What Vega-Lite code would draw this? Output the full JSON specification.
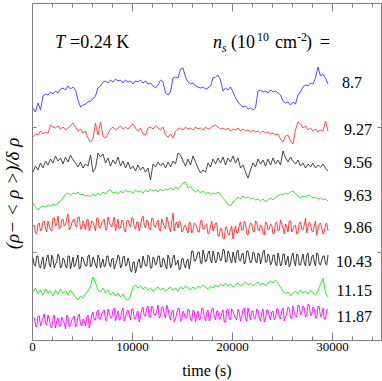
{
"$schema": "https://vega.github.io/schema/vega-lite/v6.json",
"width": 349, "height": 337,
"autosize": "none",
"padding": {"left": 32, "top": 3, "right": 1, "bottom": 41},
"background": "white",
"config": {"view": {"stroke": "#808080", "strokeWidth": 1}},
"datasets": {
"traces": [
{"s":"8.7","t":100,"v":232},{"s":"8.7","t":350,"v":228},{"s":"8.7","t":600,"v":237},{"s":"8.7","t":850,"v":230},{"s":"8.7","t":1100,"v":244},{"s":"8.7","t":1350,"v":246},{"s":"8.7","t":1600,"v":245},{"s":"8.7","t":1850,"v":248},{"s":"8.7","t":2100,"v":246},{"s":"8.7","t":2350,"v":249},{"s":"8.7","t":2600,"v":247},{"s":"8.7","t":2850,"v":251},{"s":"8.7","t":3100,"v":252},{"s":"8.7","t":3350,"v":250},{"s":"8.7","t":3600,"v":254},{"s":"8.7","t":3850,"v":251},{"s":"8.7","t":4100,"v":253},{"s":"8.7","t":4350,"v":250},{"s":"8.7","t":4600,"v":240},{"s":"8.7","t":4850,"v":233},{"s":"8.7","t":5100,"v":235},{"s":"8.7","t":5350,"v":236},{"s":"8.7","t":5600,"v":238},{"s":"8.7","t":5850,"v":239},{"s":"8.7","t":6100,"v":241},{"s":"8.7","t":6350,"v":244},{"s":"8.7","t":6600,"v":252},{"s":"8.7","t":6850,"v":254},{"s":"8.7","t":7100,"v":258},{"s":"8.7","t":7350,"v":259},{"s":"8.7","t":7600,"v":257},{"s":"8.7","t":7850,"v":260},{"s":"8.7","t":8100,"v":258},{"s":"8.7","t":8350,"v":261},{"s":"8.7","t":8600,"v":259},{"s":"8.7","t":8850,"v":260},{"s":"8.7","t":9100,"v":257},{"s":"8.7","t":9350,"v":260},{"s":"8.7","t":9600,"v":258},{"s":"8.7","t":9850,"v":259},{"s":"8.7","t":10100,"v":256},{"s":"8.7","t":10350,"v":259},{"s":"8.7","t":10600,"v":258},{"s":"8.7","t":10850,"v":260},{"s":"8.7","t":11100,"v":257},{"s":"8.7","t":11350,"v":259},{"s":"8.7","t":11600,"v":256},{"s":"8.7","t":11850,"v":257},{"s":"8.7","t":12100,"v":254},{"s":"8.7","t":12350,"v":252},{"s":"8.7","t":12600,"v":255},{"s":"8.7","t":12850,"v":260},{"s":"8.7","t":13100,"v":258},{"s":"8.7","t":13350,"v":247},{"s":"8.7","t":13600,"v":245},{"s":"8.7","t":13850,"v":248},{"s":"8.7","t":14100,"v":262},{"s":"8.7","t":14350,"v":263},{"s":"8.7","t":14600,"v":262},{"s":"8.7","t":14850,"v":271},{"s":"8.7","t":15100,"v":272},{"s":"8.7","t":15350,"v":263},{"s":"8.7","t":15600,"v":258},{"s":"8.7","t":15850,"v":256},{"s":"8.7","t":16100,"v":257},{"s":"8.7","t":16350,"v":254},{"s":"8.7","t":16600,"v":253},{"s":"8.7","t":16850,"v":252},{"s":"8.7","t":17100,"v":253},{"s":"8.7","t":17350,"v":251},{"s":"8.7","t":17600,"v":252},{"s":"8.7","t":17850,"v":254},{"s":"8.7","t":18100,"v":262},{"s":"8.7","t":18350,"v":263},{"s":"8.7","t":18600,"v":265},{"s":"8.7","t":18850,"v":260},{"s":"8.7","t":19100,"v":249},{"s":"8.7","t":19350,"v":252},{"s":"8.7","t":19600,"v":250},{"s":"8.7","t":19850,"v":253},{"s":"8.7","t":20100,"v":248},{"s":"8.7","t":20350,"v":242},{"s":"8.7","t":20600,"v":238},{"s":"8.7","t":20850,"v":235},{"s":"8.7","t":21100,"v":233},{"s":"8.7","t":21350,"v":234},{"s":"8.7","t":21600,"v":231},{"s":"8.7","t":21850,"v":232},{"s":"8.7","t":22100,"v":230},{"s":"8.7","t":22350,"v":232},{"s":"8.7","t":22600,"v":249},{"s":"8.7","t":22850,"v":250},{"s":"8.7","t":23100,"v":248},{"s":"8.7","t":23350,"v":249},{"s":"8.7","t":23600,"v":247},{"s":"8.7","t":23850,"v":250},{"s":"8.7","t":24100,"v":248},{"s":"8.7","t":24350,"v":249},{"s":"8.7","t":24600,"v":247},{"s":"8.7","t":24850,"v":245},{"s":"8.7","t":25100,"v":239},{"s":"8.7","t":25350,"v":237},{"s":"8.7","t":25600,"v":238},{"s":"8.7","t":25850,"v":235},{"s":"8.7","t":26100,"v":238},{"s":"8.7","t":26350,"v":236},{"s":"8.7","t":26600,"v":245},{"s":"8.7","t":26850,"v":248},{"s":"8.7","t":27100,"v":253},{"s":"8.7","t":27350,"v":255},{"s":"8.7","t":27600,"v":254},{"s":"8.7","t":27850,"v":257},{"s":"8.7","t":28100,"v":256},{"s":"8.7","t":28350,"v":262},{"s":"8.7","t":28600,"v":273},{"s":"8.7","t":28850,"v":264},{"s":"8.7","t":29100,"v":266},{"s":"8.7","t":29350,"v":262},{"s":"8.7","t":29600,"v":256},
{"s":"9.27","t":100,"v":203},{"s":"9.27","t":350,"v":206},{"s":"9.27","t":600,"v":205},{"s":"9.27","t":850,"v":209},{"s":"9.27","t":1100,"v":206},{"s":"9.27","t":1350,"v":208},{"s":"9.27","t":1600,"v":207},{"s":"9.27","t":1850,"v":215},{"s":"9.27","t":2100,"v":213},{"s":"9.27","t":2350,"v":212},{"s":"9.27","t":2600,"v":214},{"s":"9.27","t":2850,"v":211},{"s":"9.27","t":3100,"v":213},{"s":"9.27","t":3350,"v":210},{"s":"9.27","t":3600,"v":212},{"s":"9.27","t":3850,"v":214},{"s":"9.27","t":4100,"v":217},{"s":"9.27","t":4350,"v":213},{"s":"9.27","t":4600,"v":209},{"s":"9.27","t":4850,"v":211},{"s":"9.27","t":5100,"v":207},{"s":"9.27","t":5350,"v":209},{"s":"9.27","t":5600,"v":202},{"s":"9.27","t":5850,"v":198},{"s":"9.27","t":6100,"v":201},{"s":"9.27","t":6350,"v":217},{"s":"9.27","t":6600,"v":205},{"s":"9.27","t":6850,"v":218},{"s":"9.27","t":7100,"v":204},{"s":"9.27","t":7350,"v":202},{"s":"9.27","t":7600,"v":206},{"s":"9.27","t":7850,"v":211},{"s":"9.27","t":8100,"v":213},{"s":"9.27","t":8350,"v":210},{"s":"9.27","t":8600,"v":212},{"s":"9.27","t":8850,"v":214},{"s":"9.27","t":9100,"v":211},{"s":"9.27","t":9350,"v":213},{"s":"9.27","t":9600,"v":211},{"s":"9.27","t":9850,"v":214},{"s":"9.27","t":10100,"v":216},{"s":"9.27","t":10350,"v":212},{"s":"9.27","t":10600,"v":209},{"s":"9.27","t":10850,"v":212},{"s":"9.27","t":11100,"v":206},{"s":"9.27","t":11350,"v":205},{"s":"9.27","t":11600,"v":212},{"s":"9.27","t":11850,"v":213},{"s":"9.27","t":12100,"v":211},{"s":"9.27","t":12350,"v":214},{"s":"9.27","t":12600,"v":212},{"s":"9.27","t":12850,"v":210},{"s":"9.27","t":13100,"v":213},{"s":"9.27","t":13350,"v":205},{"s":"9.27","t":13600,"v":203},{"s":"9.27","t":13850,"v":206},{"s":"9.27","t":14100,"v":202},{"s":"9.27","t":14350,"v":209},{"s":"9.27","t":14600,"v":211},{"s":"9.27","t":14850,"v":212},{"s":"9.27","t":15100,"v":210},{"s":"9.27","t":15350,"v":213},{"s":"9.27","t":15600,"v":211},{"s":"9.27","t":15850,"v":212},{"s":"9.27","t":16100,"v":210},{"s":"9.27","t":16350,"v":213},{"s":"9.27","t":16600,"v":211},{"s":"9.27","t":16850,"v":212},{"s":"9.27","t":17100,"v":210},{"s":"9.27","t":17350,"v":213},{"s":"9.27","t":17600,"v":211},{"s":"9.27","t":17850,"v":212},{"s":"9.27","t":18100,"v":214},{"s":"9.27","t":18350,"v":215},{"s":"9.27","t":18600,"v":213},{"s":"9.27","t":18850,"v":211},{"s":"9.27","t":19100,"v":212},{"s":"9.27","t":19350,"v":210},{"s":"9.27","t":19600,"v":212},{"s":"9.27","t":19850,"v":209},{"s":"9.27","t":20100,"v":211},{"s":"9.27","t":20350,"v":210},{"s":"9.27","t":20600,"v":212},{"s":"9.27","t":20850,"v":209},{"s":"9.27","t":21100,"v":211},{"s":"9.27","t":21350,"v":209},{"s":"9.27","t":21600,"v":210},{"s":"9.27","t":21850,"v":208},{"s":"9.27","t":22100,"v":210},{"s":"9.27","t":22350,"v":208},{"s":"9.27","t":22600,"v":209},{"s":"9.27","t":22850,"v":207},{"s":"9.27","t":23100,"v":209},{"s":"9.27","t":23350,"v":207},{"s":"9.27","t":23600,"v":208},{"s":"9.27","t":23850,"v":206},{"s":"9.27","t":24100,"v":207},{"s":"9.27","t":24350,"v":205},{"s":"9.27","t":24600,"v":206},{"s":"9.27","t":24850,"v":201},{"s":"9.27","t":25100,"v":198},{"s":"9.27","t":25350,"v":204},{"s":"9.27","t":25600,"v":205},{"s":"9.27","t":25850,"v":199},{"s":"9.27","t":26100,"v":196},{"s":"9.27","t":26350,"v":210},{"s":"9.27","t":26600,"v":218},{"s":"9.27","t":26850,"v":216},{"s":"9.27","t":27100,"v":212},{"s":"9.27","t":27350,"v":214},{"s":"9.27","t":27600,"v":210},{"s":"9.27","t":27850,"v":212},{"s":"9.27","t":28100,"v":209},{"s":"9.27","t":28350,"v":211},{"s":"9.27","t":28600,"v":208},{"s":"9.27","t":28850,"v":210},{"s":"9.27","t":29100,"v":209},{"s":"9.27","t":29350,"v":219},{"s":"9.27","t":29600,"v":209},
{"s":"9.56","t":100,"v":168},{"s":"9.56","t":350,"v":174},{"s":"9.56","t":600,"v":170},{"s":"9.56","t":850,"v":177},{"s":"9.56","t":1100,"v":172},{"s":"9.56","t":1350,"v":179},{"s":"9.56","t":1600,"v":175},{"s":"9.56","t":1850,"v":181},{"s":"9.56","t":2100,"v":177},{"s":"9.56","t":2350,"v":184},{"s":"9.56","t":2600,"v":179},{"s":"9.56","t":2850,"v":182},{"s":"9.56","t":3100,"v":176},{"s":"9.56","t":3350,"v":183},{"s":"9.56","t":3600,"v":178},{"s":"9.56","t":3850,"v":185},{"s":"9.56","t":4100,"v":180},{"s":"9.56","t":4350,"v":177},{"s":"9.56","t":4600,"v":173},{"s":"9.56","t":4850,"v":178},{"s":"9.56","t":5100,"v":172},{"s":"9.56","t":5350,"v":176},{"s":"9.56","t":5600,"v":174},{"s":"9.56","t":5850,"v":185},{"s":"9.56","t":6100,"v":168},{"s":"9.56","t":6350,"v":172},{"s":"9.56","t":6600,"v":187},{"s":"9.56","t":6850,"v":183},{"s":"9.56","t":7100,"v":186},{"s":"9.56","t":7350,"v":177},{"s":"9.56","t":7600,"v":182},{"s":"9.56","t":7850,"v":174},{"s":"9.56","t":8100,"v":180},{"s":"9.56","t":8350,"v":176},{"s":"9.56","t":8600,"v":183},{"s":"9.56","t":8850,"v":174},{"s":"9.56","t":9100,"v":179},{"s":"9.56","t":9350,"v":172},{"s":"9.56","t":9600,"v":178},{"s":"9.56","t":9850,"v":171},{"s":"9.56","t":10100,"v":174},{"s":"9.56","t":10350,"v":169},{"s":"9.56","t":10600,"v":175},{"s":"9.56","t":10850,"v":170},{"s":"9.56","t":11100,"v":173},{"s":"9.56","t":11350,"v":168},{"s":"9.56","t":11600,"v":172},{"s":"9.56","t":11850,"v":160},{"s":"9.56","t":12100,"v":176},{"s":"9.56","t":12350,"v":173},{"s":"9.56","t":12600,"v":178},{"s":"9.56","t":12850,"v":174},{"s":"9.56","t":13100,"v":177},{"s":"9.56","t":13350,"v":172},{"s":"9.56","t":13600,"v":178},{"s":"9.56","t":13850,"v":173},{"s":"9.56","t":14100,"v":179},{"s":"9.56","t":14350,"v":176},{"s":"9.56","t":14600,"v":187},{"s":"9.56","t":14850,"v":185},{"s":"9.56","t":15100,"v":179},{"s":"9.56","t":15350,"v":174},{"s":"9.56","t":15600,"v":181},{"s":"9.56","t":15850,"v":175},{"s":"9.56","t":16100,"v":184},{"s":"9.56","t":16350,"v":178},{"s":"9.56","t":16600,"v":172},{"s":"9.56","t":16850,"v":167},{"s":"9.56","t":17100,"v":170},{"s":"9.56","t":17350,"v":168},{"s":"9.56","t":17600,"v":177},{"s":"9.56","t":17850,"v":173},{"s":"9.56","t":18100,"v":181},{"s":"9.56","t":18350,"v":176},{"s":"9.56","t":18600,"v":182},{"s":"9.56","t":18850,"v":177},{"s":"9.56","t":19100,"v":183},{"s":"9.56","t":19350,"v":175},{"s":"9.56","t":19600,"v":182},{"s":"9.56","t":19850,"v":178},{"s":"9.56","t":20100,"v":184},{"s":"9.56","t":20350,"v":177},{"s":"9.56","t":20600,"v":182},{"s":"9.56","t":20850,"v":172},{"s":"9.56","t":21100,"v":175},{"s":"9.56","t":21350,"v":168},{"s":"9.56","t":21600,"v":162},{"s":"9.56","t":21850,"v":170},{"s":"9.56","t":22100,"v":177},{"s":"9.56","t":22350,"v":173},{"s":"9.56","t":22600,"v":181},{"s":"9.56","t":22850,"v":176},{"s":"9.56","t":23100,"v":180},{"s":"9.56","t":23350,"v":174},{"s":"9.56","t":23600,"v":181},{"s":"9.56","t":23850,"v":175},{"s":"9.56","t":24100,"v":182},{"s":"9.56","t":24350,"v":176},{"s":"9.56","t":24600,"v":180},{"s":"9.56","t":24850,"v":175},{"s":"9.56","t":25100,"v":189},{"s":"9.56","t":25350,"v":182},{"s":"9.56","t":25600,"v":178},{"s":"9.56","t":25850,"v":183},{"s":"9.56","t":26100,"v":179},{"s":"9.56","t":26350,"v":176},{"s":"9.56","t":26600,"v":180},{"s":"9.56","t":26850,"v":174},{"s":"9.56","t":27100,"v":177},{"s":"9.56","t":27350,"v":172},{"s":"9.56","t":27600,"v":176},{"s":"9.56","t":27850,"v":173},{"s":"9.56","t":28100,"v":177},{"s":"9.56","t":28350,"v":172},{"s":"9.56","t":28600,"v":175},{"s":"9.56","t":28850,"v":173},{"s":"9.56","t":29100,"v":176},{"s":"9.56","t":29350,"v":172},{"s":"9.56","t":29600,"v":169},
{"s":"9.63","t":100,"v":137},{"s":"9.63","t":350,"v":133},{"s":"9.63","t":600,"v":130},{"s":"9.63","t":850,"v":133},{"s":"9.63","t":1100,"v":134},{"s":"9.63","t":1350,"v":133},{"s":"9.63","t":1600,"v":135},{"s":"9.63","t":1850,"v":134},{"s":"9.63","t":2100,"v":136},{"s":"9.63","t":2350,"v":135},{"s":"9.63","t":2600,"v":137},{"s":"9.63","t":2850,"v":139},{"s":"9.63","t":3100,"v":142},{"s":"9.63","t":3350,"v":146},{"s":"9.63","t":3600,"v":147},{"s":"9.63","t":3850,"v":145},{"s":"9.63","t":4100,"v":147},{"s":"9.63","t":4350,"v":146},{"s":"9.63","t":4600,"v":148},{"s":"9.63","t":4850,"v":145},{"s":"9.63","t":5100,"v":146},{"s":"9.63","t":5350,"v":144},{"s":"9.63","t":5600,"v":145},{"s":"9.63","t":5850,"v":143},{"s":"9.63","t":6100,"v":146},{"s":"9.63","t":6350,"v":144},{"s":"9.63","t":6600,"v":147},{"s":"9.63","t":6850,"v":145},{"s":"9.63","t":7100,"v":148},{"s":"9.63","t":7350,"v":146},{"s":"9.63","t":7600,"v":149},{"s":"9.63","t":7850,"v":150},{"s":"9.63","t":8100,"v":147},{"s":"9.63","t":8350,"v":148},{"s":"9.63","t":8600,"v":146},{"s":"9.63","t":8850,"v":149},{"s":"9.63","t":9100,"v":147},{"s":"9.63","t":9350,"v":150},{"s":"9.63","t":9600,"v":148},{"s":"9.63","t":9850,"v":149},{"s":"9.63","t":10100,"v":147},{"s":"9.63","t":10350,"v":150},{"s":"9.63","t":10600,"v":148},{"s":"9.63","t":10850,"v":149},{"s":"9.63","t":11100,"v":147},{"s":"9.63","t":11350,"v":150},{"s":"9.63","t":11600,"v":148},{"s":"9.63","t":11850,"v":151},{"s":"9.63","t":12100,"v":149},{"s":"9.63","t":12350,"v":150},{"s":"9.63","t":12600,"v":148},{"s":"9.63","t":12850,"v":151},{"s":"9.63","t":13100,"v":149},{"s":"9.63","t":13350,"v":151},{"s":"9.63","t":13600,"v":150},{"s":"9.63","t":13850,"v":152},{"s":"9.63","t":14100,"v":150},{"s":"9.63","t":14350,"v":153},{"s":"9.63","t":14600,"v":151},{"s":"9.63","t":14850,"v":154},{"s":"9.63","t":15100,"v":157},{"s":"9.63","t":15350,"v":158},{"s":"9.63","t":15600,"v":152},{"s":"9.63","t":15850,"v":154},{"s":"9.63","t":16100,"v":150},{"s":"9.63","t":16350,"v":148},{"s":"9.63","t":16600,"v":150},{"s":"9.63","t":16850,"v":147},{"s":"9.63","t":17100,"v":149},{"s":"9.63","t":17350,"v":146},{"s":"9.63","t":17600,"v":148},{"s":"9.63","t":17850,"v":145},{"s":"9.63","t":18100,"v":147},{"s":"9.63","t":18350,"v":146},{"s":"9.63","t":18600,"v":148},{"s":"9.63","t":18850,"v":145},{"s":"9.63","t":19100,"v":142},{"s":"9.63","t":19350,"v":139},{"s":"9.63","t":19600,"v":135},{"s":"9.63","t":19850,"v":134},{"s":"9.63","t":20100,"v":138},{"s":"9.63","t":20350,"v":140},{"s":"9.63","t":20600,"v":143},{"s":"9.63","t":20850,"v":141},{"s":"9.63","t":21100,"v":144},{"s":"9.63","t":21350,"v":142},{"s":"9.63","t":21600,"v":143},{"s":"9.63","t":21850,"v":141},{"s":"9.63","t":22100,"v":142},{"s":"9.63","t":22350,"v":140},{"s":"9.63","t":22600,"v":141},{"s":"9.63","t":22850,"v":139},{"s":"9.63","t":23100,"v":141},{"s":"9.63","t":23350,"v":138},{"s":"9.63","t":23600,"v":140},{"s":"9.63","t":23850,"v":142},{"s":"9.63","t":24100,"v":140},{"s":"9.63","t":24350,"v":143},{"s":"9.63","t":24600,"v":144},{"s":"9.63","t":24850,"v":146},{"s":"9.63","t":25100,"v":145},{"s":"9.63","t":25350,"v":147},{"s":"9.63","t":25600,"v":146},{"s":"9.63","t":25850,"v":148},{"s":"9.63","t":26100,"v":149},{"s":"9.63","t":26350,"v":146},{"s":"9.63","t":26600,"v":144},{"s":"9.63","t":26850,"v":142},{"s":"9.63","t":27100,"v":144},{"s":"9.63","t":27350,"v":143},{"s":"9.63","t":27600,"v":145},{"s":"9.63","t":27850,"v":144},{"s":"9.63","t":28100,"v":142},{"s":"9.63","t":28350,"v":143},{"s":"9.63","t":28600,"v":141},{"s":"9.63","t":28850,"v":142},{"s":"9.63","t":29100,"v":140},{"s":"9.63","t":29350,"v":141},{"s":"9.63","t":29600,"v":139},
{"s":"9.86","t":100,"v":114},{"s":"9.86","t":350,"v":107},{"s":"9.86","t":600,"v":116},{"s":"9.86","t":850,"v":109},{"s":"9.86","t":1100,"v":118},{"s":"9.86","t":1350,"v":111},{"s":"9.86","t":1600,"v":119},{"s":"9.86","t":1850,"v":110},{"s":"9.86","t":2100,"v":122},{"s":"9.86","t":2350,"v":114},{"s":"9.86","t":2600,"v":124},{"s":"9.86","t":2850,"v":113},{"s":"9.86","t":3100,"v":121},{"s":"9.86","t":3350,"v":115},{"s":"9.86","t":3600,"v":126},{"s":"9.86","t":3850,"v":112},{"s":"9.86","t":4100,"v":120},{"s":"9.86","t":4350,"v":114},{"s":"9.86","t":4600,"v":123},{"s":"9.86","t":4850,"v":111},{"s":"9.86","t":5100,"v":119},{"s":"9.86","t":5350,"v":110},{"s":"9.86","t":5600,"v":121},{"s":"9.86","t":5850,"v":113},{"s":"9.86","t":6100,"v":118},{"s":"9.86","t":6350,"v":109},{"s":"9.86","t":6600,"v":122},{"s":"9.86","t":6850,"v":112},{"s":"9.86","t":7100,"v":119},{"s":"9.86","t":7350,"v":110},{"s":"9.86","t":7600,"v":123},{"s":"9.86","t":7850,"v":115},{"s":"9.86","t":8100,"v":118},{"s":"9.86","t":8350,"v":109},{"s":"9.86","t":8600,"v":121},{"s":"9.86","t":8850,"v":112},{"s":"9.86","t":9100,"v":119},{"s":"9.86","t":9350,"v":108},{"s":"9.86","t":9600,"v":120},{"s":"9.86","t":9850,"v":113},{"s":"9.86","t":10100,"v":122},{"s":"9.86","t":10350,"v":111},{"s":"9.86","t":10600,"v":118},{"s":"9.86","t":10850,"v":114},{"s":"9.86","t":11100,"v":124},{"s":"9.86","t":11350,"v":112},{"s":"9.86","t":11600,"v":119},{"s":"9.86","t":11850,"v":110},{"s":"9.86","t":12100,"v":121},{"s":"9.86","t":12350,"v":113},{"s":"9.86","t":12600,"v":120},{"s":"9.86","t":12850,"v":109},{"s":"9.86","t":13100,"v":117},{"s":"9.86","t":13350,"v":111},{"s":"9.86","t":13600,"v":119},{"s":"9.86","t":13850,"v":108},{"s":"9.86","t":14100,"v":127},{"s":"9.86","t":14350,"v":116},{"s":"9.86","t":14600,"v":112},{"s":"9.86","t":14850,"v":118},{"s":"9.86","t":15100,"v":109},{"s":"9.86","t":15350,"v":115},{"s":"9.86","t":15600,"v":107},{"s":"9.86","t":15850,"v":117},{"s":"9.86","t":16100,"v":110},{"s":"9.86","t":16350,"v":116},{"s":"9.86","t":16600,"v":108},{"s":"9.86","t":16850,"v":119},{"s":"9.86","t":17100,"v":111},{"s":"9.86","t":17350,"v":115},{"s":"9.86","t":17600,"v":106},{"s":"9.86","t":17850,"v":114},{"s":"9.86","t":18100,"v":109},{"s":"9.86","t":18350,"v":117},{"s":"9.86","t":18600,"v":104},{"s":"9.86","t":18850,"v":112},{"s":"9.86","t":19100,"v":102},{"s":"9.86","t":19350,"v":113},{"s":"9.86","t":19600,"v":106},{"s":"9.86","t":19850,"v":111},{"s":"9.86","t":20100,"v":101},{"s":"9.86","t":20350,"v":114},{"s":"9.86","t":20600,"v":107},{"s":"9.86","t":20850,"v":118},{"s":"9.86","t":21100,"v":110},{"s":"9.86","t":21350,"v":116},{"s":"9.86","t":21600,"v":105},{"s":"9.86","t":21850,"v":117},{"s":"9.86","t":22100,"v":109},{"s":"9.86","t":22350,"v":119},{"s":"9.86","t":22600,"v":111},{"s":"9.86","t":22850,"v":115},{"s":"9.86","t":23100,"v":107},{"s":"9.86","t":23350,"v":118},{"s":"9.86","t":23600,"v":110},{"s":"9.86","t":23850,"v":116},{"s":"9.86","t":24100,"v":106},{"s":"9.86","t":24350,"v":117},{"s":"9.86","t":24600,"v":109},{"s":"9.86","t":24850,"v":120},{"s":"9.86","t":25100,"v":112},{"s":"9.86","t":25350,"v":116},{"s":"9.86","t":25600,"v":108},{"s":"9.86","t":25850,"v":119},{"s":"9.86","t":26100,"v":111},{"s":"9.86","t":26350,"v":115},{"s":"9.86","t":26600,"v":107},{"s":"9.86","t":26850,"v":118},{"s":"9.86","t":27100,"v":110},{"s":"9.86","t":27350,"v":122},{"s":"9.86","t":27600,"v":113},{"s":"9.86","t":27850,"v":116},{"s":"9.86","t":28100,"v":108},{"s":"9.86","t":28350,"v":119},{"s":"9.86","t":28600,"v":111},{"s":"9.86","t":28850,"v":117},{"s":"9.86","t":29100,"v":106},{"s":"9.86","t":29350,"v":115},{"s":"9.86","t":29600,"v":109},
{"s":"9.86","t":225,"v":115},{"s":"9.86","t":475,"v":106},{"s":"9.86","t":725,"v":117},{"s":"9.86","t":975,"v":111},{"s":"9.86","t":1225,"v":119},{"s":"9.86","t":1475,"v":108},{"s":"9.86","t":1725,"v":114},{"s":"9.86","t":1975,"v":109},{"s":"9.86","t":2225,"v":122},{"s":"9.86","t":2475,"v":116},{"s":"9.86","t":2725,"v":111},{"s":"9.86","t":2975,"v":120},{"s":"9.86","t":3225,"v":114},{"s":"9.86","t":3475,"v":122},{"s":"9.86","t":3725,"v":110},{"s":"9.86","t":3975,"v":117},{"s":"9.86","t":4225,"v":121},{"s":"9.86","t":4475,"v":113},{"s":"9.86","t":4725,"v":123},{"s":"9.86","t":4975,"v":111},{"s":"9.86","t":5225,"v":116},{"s":"9.86","t":5475,"v":120},{"s":"9.86","t":5725,"v":109},{"s":"9.86","t":5975,"v":119},{"s":"9.86","t":6225,"v":114},{"s":"9.86","t":6475,"v":122},{"s":"9.86","t":6725,"v":112},{"s":"9.86","t":6975,"v":117},{"s":"9.86","t":7225,"v":121},{"s":"9.86","t":7475,"v":110},{"s":"9.86","t":7725,"v":118},{"s":"9.86","t":7975,"v":113},{"s":"9.86","t":8225,"v":123},{"s":"9.86","t":8475,"v":115},{"s":"9.86","t":8725,"v":111},{"s":"9.86","t":8975,"v":120},{"s":"9.86","t":9225,"v":110},{"s":"9.86","t":9475,"v":119},{"s":"9.86","t":9725,"v":116},{"s":"9.86","t":9975,"v":122},{"s":"9.86","t":10225,"v":112},{"s":"9.86","t":10475,"v":118},{"s":"9.86","t":10725,"v":109},{"s":"9.86","t":10975,"v":121},{"s":"9.86","t":11225,"v":115},{"s":"9.86","t":11475,"v":120},{"s":"9.86","t":11725,"v":111},{"s":"9.86","t":11975,"v":122},{"s":"9.86","t":12225,"v":113},{"s":"9.86","t":12475,"v":117},{"s":"9.86","t":12725,"v":110},{"s":"9.86","t":12975,"v":121},{"s":"9.86","t":13225,"v":114},{"s":"9.86","t":13475,"v":123},{"s":"9.86","t":13725,"v":112},{"s":"9.86","t":13975,"v":119},{"s":"9.86","t":14225,"v":109},{"s":"9.86","t":14475,"v":118},{"s":"9.86","t":14725,"v":119},{"s":"9.86","t":14975,"v":108},{"s":"9.86","t":15225,"v":114},{"s":"9.86","t":15475,"v":110},{"s":"9.86","t":15725,"v":118},{"s":"9.86","t":15975,"v":107},{"s":"9.86","t":16225,"v":117},{"s":"9.86","t":16475,"v":113},{"s":"9.86","t":16725,"v":108},{"s":"9.86","t":16975,"v":120},{"s":"9.86","t":17225,"v":111},{"s":"9.86","t":17475,"v":116},{"s":"9.86","t":17725,"v":107},{"s":"9.86","t":17975,"v":119},{"s":"9.86","t":18225,"v":112},{"s":"9.86","t":18475,"v":117},{"s":"9.86","t":18725,"v":104},{"s":"9.86","t":18975,"v":110},{"s":"9.86","t":19225,"v":101},{"s":"9.86","t":19475,"v":113},{"s":"9.86","t":19725,"v":105},{"s":"9.86","t":19975,"v":114},{"s":"9.86","t":20225,"v":108},{"s":"9.86","t":20475,"v":107},{"s":"9.86","t":20725,"v":115},{"s":"9.86","t":20975,"v":110},{"s":"9.86","t":21225,"v":119},{"s":"9.86","t":21475,"v":106},{"s":"9.86","t":21725,"v":113},{"s":"9.86","t":21975,"v":116},{"s":"9.86","t":22225,"v":108},{"s":"9.86","t":22475,"v":118},{"s":"9.86","t":22725,"v":109},{"s":"9.86","t":22975,"v":114},{"s":"9.86","t":23225,"v":105},{"s":"9.86","t":23475,"v":117},{"s":"9.86","t":23725,"v":111},{"s":"9.86","t":23975,"v":115},{"s":"9.86","t":24225,"v":107},{"s":"9.86","t":24475,"v":118},{"s":"9.86","t":24725,"v":110},{"s":"9.86","t":24975,"v":116},{"s":"9.86","t":25225,"v":106},{"s":"9.86","t":25475,"v":113},{"s":"9.86","t":25725,"v":119},{"s":"9.86","t":25975,"v":108},{"s":"9.86","t":26225,"v":114},{"s":"9.86","t":26475,"v":106},{"s":"9.86","t":26725,"v":117},{"s":"9.86","t":26975,"v":111},{"s":"9.86","t":27225,"v":115},{"s":"9.86","t":27475,"v":107},{"s":"9.86","t":27725,"v":118},{"s":"9.86","t":27975,"v":109},{"s":"9.86","t":28225,"v":114},{"s":"9.86","t":28475,"v":105},{"s":"9.86","t":28725,"v":116},{"s":"9.86","t":28975,"v":112},{"s":"9.86","t":29225,"v":108},{"s":"9.86","t":29475,"v":117},
{"s":"10.43","t":100,"v":82},{"s":"10.43","t":350,"v":74},{"s":"10.43","t":600,"v":84},{"s":"10.43","t":850,"v":72},{"s":"10.43","t":1100,"v":83},{"s":"10.43","t":1350,"v":75},{"s":"10.43","t":1600,"v":85},{"s":"10.43","t":1850,"v":73},{"s":"10.43","t":2100,"v":81},{"s":"10.43","t":2350,"v":76},{"s":"10.43","t":2600,"v":86},{"s":"10.43","t":2850,"v":72},{"s":"10.43","t":3100,"v":82},{"s":"10.43","t":3350,"v":74},{"s":"10.43","t":3600,"v":84},{"s":"10.43","t":3850,"v":71},{"s":"10.43","t":4100,"v":83},{"s":"10.43","t":4350,"v":75},{"s":"10.43","t":4600,"v":85},{"s":"10.43","t":4850,"v":72},{"s":"10.43","t":5100,"v":82},{"s":"10.43","t":5350,"v":74},{"s":"10.43","t":5600,"v":84},{"s":"10.43","t":5850,"v":73},{"s":"10.43","t":6100,"v":83},{"s":"10.43","t":6350,"v":75},{"s":"10.43","t":6600,"v":85},{"s":"10.43","t":6850,"v":72},{"s":"10.43","t":7100,"v":81},{"s":"10.43","t":7350,"v":74},{"s":"10.43","t":7600,"v":84},{"s":"10.43","t":7850,"v":73},{"s":"10.43","t":8100,"v":82},{"s":"10.43","t":8350,"v":75},{"s":"10.43","t":8600,"v":85},{"s":"10.43","t":8850,"v":72},{"s":"10.43","t":9100,"v":83},{"s":"10.43","t":9350,"v":74},{"s":"10.43","t":9600,"v":82},{"s":"10.43","t":9850,"v":69},{"s":"10.43","t":10100,"v":78},{"s":"10.43","t":10350,"v":67},{"s":"10.43","t":10600,"v":79},{"s":"10.43","t":10850,"v":72},{"s":"10.43","t":11100,"v":84},{"s":"10.43","t":11350,"v":74},{"s":"10.43","t":11600,"v":85},{"s":"10.43","t":11850,"v":72},{"s":"10.43","t":12100,"v":83},{"s":"10.43","t":12350,"v":75},{"s":"10.43","t":12600,"v":84},{"s":"10.43","t":12850,"v":73},{"s":"10.43","t":13100,"v":82},{"s":"10.43","t":13350,"v":74},{"s":"10.43","t":13600,"v":85},{"s":"10.43","t":13850,"v":72},{"s":"10.43","t":14100,"v":83},{"s":"10.43","t":14350,"v":75},{"s":"10.43","t":14600,"v":80},{"s":"10.43","t":14850,"v":71},{"s":"10.43","t":15100,"v":82},{"s":"10.43","t":15350,"v":72},{"s":"10.43","t":15600,"v":81},{"s":"10.43","t":15850,"v":78},{"s":"10.43","t":16100,"v":89},{"s":"10.43","t":16350,"v":79},{"s":"10.43","t":16600,"v":88},{"s":"10.43","t":16850,"v":77},{"s":"10.43","t":17100,"v":90},{"s":"10.43","t":17350,"v":78},{"s":"10.43","t":17600,"v":87},{"s":"10.43","t":17850,"v":80},{"s":"10.43","t":18100,"v":89},{"s":"10.43","t":18350,"v":77},{"s":"10.43","t":18600,"v":88},{"s":"10.43","t":18850,"v":79},{"s":"10.43","t":19100,"v":91},{"s":"10.43","t":19350,"v":78},{"s":"10.43","t":19600,"v":89},{"s":"10.43","t":19850,"v":80},{"s":"10.43","t":20100,"v":88},{"s":"10.43","t":20350,"v":77},{"s":"10.43","t":20600,"v":90},{"s":"10.43","t":20850,"v":79},{"s":"10.43","t":21100,"v":87},{"s":"10.43","t":21350,"v":78},{"s":"10.43","t":21600,"v":89},{"s":"10.43","t":21850,"v":77},{"s":"10.43","t":22100,"v":88},{"s":"10.43","t":22350,"v":79},{"s":"10.43","t":22600,"v":87},{"s":"10.43","t":22850,"v":76},{"s":"10.43","t":23100,"v":88},{"s":"10.43","t":23350,"v":78},{"s":"10.43","t":23600,"v":86},{"s":"10.43","t":23850,"v":75},{"s":"10.43","t":24100,"v":85},{"s":"10.43","t":24350,"v":76},{"s":"10.43","t":24600,"v":87},{"s":"10.43","t":24850,"v":74},{"s":"10.43","t":25100,"v":86},{"s":"10.43","t":25350,"v":75},{"s":"10.43","t":25600,"v":84},{"s":"10.43","t":25850,"v":76},{"s":"10.43","t":26100,"v":87},{"s":"10.43","t":26350,"v":74},{"s":"10.43","t":26600,"v":85},{"s":"10.43","t":26850,"v":75},{"s":"10.43","t":27100,"v":86},{"s":"10.43","t":27350,"v":74},{"s":"10.43","t":27600,"v":87},{"s":"10.43","t":27850,"v":76},{"s":"10.43","t":28100,"v":85},{"s":"10.43","t":28350,"v":74},{"s":"10.43","t":28600,"v":86},{"s":"10.43","t":28850,"v":75},{"s":"10.43","t":29100,"v":84},{"s":"10.43","t":29350,"v":76},{"s":"10.43","t":29600,"v":85},
{"s":"10.43","t":225,"v":75},{"s":"10.43","t":475,"v":84},{"s":"10.43","t":725,"v":73},{"s":"10.43","t":975,"v":79},{"s":"10.43","t":1225,"v":71},{"s":"10.43","t":1475,"v":82},{"s":"10.43","t":1725,"v":76},{"s":"10.43","t":1975,"v":85},{"s":"10.43","t":2225,"v":72},{"s":"10.43","t":2475,"v":78},{"s":"10.43","t":2725,"v":83},{"s":"10.43","t":2975,"v":74},{"s":"10.43","t":3225,"v":80},{"s":"10.43","t":3475,"v":72},{"s":"10.43","t":3725,"v":84},{"s":"10.43","t":3975,"v":77},{"s":"10.43","t":4225,"v":73},{"s":"10.43","t":4475,"v":81},{"s":"10.43","t":4725,"v":71},{"s":"10.43","t":4975,"v":83},{"s":"10.43","t":5225,"v":78},{"s":"10.43","t":5475,"v":74},{"s":"10.43","t":5725,"v":85},{"s":"10.43","t":5975,"v":75},{"s":"10.43","t":6225,"v":80},{"s":"10.43","t":6475,"v":72},{"s":"10.43","t":6725,"v":82},{"s":"10.43","t":6975,"v":77},{"s":"10.43","t":7225,"v":73},{"s":"10.43","t":7475,"v":84},{"s":"10.43","t":7725,"v":76},{"s":"10.43","t":7975,"v":81},{"s":"10.43","t":8225,"v":71},{"s":"10.43","t":8475,"v":79},{"s":"10.43","t":8725,"v":83},{"s":"10.43","t":8975,"v":74},{"s":"10.43","t":9225,"v":84},{"s":"10.43","t":9475,"v":75},{"s":"10.43","t":9725,"v":78},{"s":"10.43","t":9975,"v":68},{"s":"10.43","t":10225,"v":78},{"s":"10.43","t":10475,"v":72},{"s":"10.43","t":10725,"v":81},{"s":"10.43","t":10975,"v":73},{"s":"10.43","t":11225,"v":79},{"s":"10.43","t":11475,"v":74},{"s":"10.43","t":11725,"v":83},{"s":"10.43","t":11975,"v":72},{"s":"10.43","t":12225,"v":81},{"s":"10.43","t":12475,"v":77},{"s":"10.43","t":12725,"v":84},{"s":"10.43","t":12975,"v":73},{"s":"10.43","t":13225,"v":80},{"s":"10.43","t":13475,"v":71},{"s":"10.43","t":13725,"v":82},{"s":"10.43","t":13975,"v":75},{"s":"10.43","t":14225,"v":85},{"s":"10.43","t":14475,"v":76},{"s":"10.43","t":14725,"v":70},{"s":"10.43","t":14975,"v":81},{"s":"10.43","t":15225,"v":75},{"s":"10.43","t":15475,"v":79},{"s":"10.43","t":15725,"v":71},{"s":"10.43","t":15975,"v":89},{"s":"10.43","t":16225,"v":79},{"s":"10.43","t":16475,"v":83},{"s":"10.43","t":16725,"v":88},{"s":"10.43","t":16975,"v":76},{"s":"10.43","t":17225,"v":85},{"s":"10.43","t":17475,"v":80},{"s":"10.43","t":17725,"v":89},{"s":"10.43","t":17975,"v":77},{"s":"10.43","t":18225,"v":84},{"s":"10.43","t":18475,"v":79},{"s":"10.43","t":18725,"v":85},{"s":"10.43","t":18975,"v":81},{"s":"10.43","t":19225,"v":90},{"s":"10.43","t":19475,"v":78},{"s":"10.43","t":19725,"v":86},{"s":"10.43","t":19975,"v":77},{"s":"10.43","t":20225,"v":83},{"s":"10.43","t":20475,"v":88},{"s":"10.43","t":20725,"v":80},{"s":"10.43","t":20975,"v":85},{"s":"10.43","t":21225,"v":76},{"s":"10.43","t":21475,"v":89},{"s":"10.43","t":21725,"v":82},{"s":"10.43","t":21975,"v":79},{"s":"10.43","t":22225,"v":87},{"s":"10.43","t":22475,"v":77},{"s":"10.43","t":22725,"v":86},{"s":"10.43","t":22975,"v":81},{"s":"10.43","t":23225,"v":90},{"s":"10.43","t":23475,"v":78},{"s":"10.43","t":23725,"v":84},{"s":"10.43","t":23975,"v":77},{"s":"10.43","t":24225,"v":85},{"s":"10.43","t":24475,"v":74},{"s":"10.43","t":24725,"v":82},{"s":"10.43","t":24975,"v":76},{"s":"10.43","t":25225,"v":86},{"s":"10.43","t":25475,"v":79},{"s":"10.43","t":25725,"v":73},{"s":"10.43","t":25975,"v":84},{"s":"10.43","t":26225,"v":78},{"s":"10.43","t":26475,"v":86},{"s":"10.43","t":26725,"v":75},{"s":"10.43","t":26975,"v":81},{"s":"10.43","t":27225,"v":77},{"s":"10.43","t":27475,"v":85},{"s":"10.43","t":27725,"v":74},{"s":"10.43","t":27975,"v":83},{"s":"10.43","t":28225,"v":78},{"s":"10.43","t":28475,"v":87},{"s":"10.43","t":28725,"v":76},{"s":"10.43","t":28975,"v":80},{"s":"10.43","t":29225,"v":84},{"s":"10.43","t":29475,"v":75},
{"s":"11.15","t":100,"v":48},{"s":"11.15","t":350,"v":52},{"s":"11.15","t":600,"v":46},{"s":"11.15","t":850,"v":50},{"s":"11.15","t":1100,"v":45},{"s":"11.15","t":1350,"v":51},{"s":"11.15","t":1600,"v":47},{"s":"11.15","t":1850,"v":49},{"s":"11.15","t":2100,"v":44},{"s":"11.15","t":2350,"v":50},{"s":"11.15","t":2600,"v":46},{"s":"11.15","t":2850,"v":51},{"s":"11.15","t":3100,"v":47},{"s":"11.15","t":3350,"v":49},{"s":"11.15","t":3600,"v":45},{"s":"11.15","t":3850,"v":50},{"s":"11.15","t":4100,"v":46},{"s":"11.15","t":4350,"v":43},{"s":"11.15","t":4600,"v":40},{"s":"11.15","t":4850,"v":44},{"s":"11.15","t":5100,"v":42},{"s":"11.15","t":5350,"v":46},{"s":"11.15","t":5600,"v":49},{"s":"11.15","t":5850,"v":54},{"s":"11.15","t":6100,"v":63},{"s":"11.15","t":6350,"v":57},{"s":"11.15","t":6600,"v":50},{"s":"11.15","t":6850,"v":48},{"s":"11.15","t":7100,"v":52},{"s":"11.15","t":7350,"v":47},{"s":"11.15","t":7600,"v":50},{"s":"11.15","t":7850,"v":45},{"s":"11.15","t":8100,"v":48},{"s":"11.15","t":8350,"v":44},{"s":"11.15","t":8600,"v":47},{"s":"11.15","t":8850,"v":43},{"s":"11.15","t":9100,"v":46},{"s":"11.15","t":9350,"v":41},{"s":"11.15","t":9600,"v":40},{"s":"11.15","t":9850,"v":44},{"s":"11.15","t":10100,"v":53},{"s":"11.15","t":10350,"v":55},{"s":"11.15","t":10600,"v":52},{"s":"11.15","t":10850,"v":54},{"s":"11.15","t":11100,"v":51},{"s":"11.15","t":11350,"v":53},{"s":"11.15","t":11600,"v":50},{"s":"11.15","t":11850,"v":52},{"s":"11.15","t":12100,"v":49},{"s":"11.15","t":12350,"v":51},{"s":"11.15","t":12600,"v":53},{"s":"11.15","t":12850,"v":50},{"s":"11.15","t":13100,"v":52},{"s":"11.15","t":13350,"v":49},{"s":"11.15","t":13600,"v":51},{"s":"11.15","t":13850,"v":53},{"s":"11.15","t":14100,"v":50},{"s":"11.15","t":14350,"v":52},{"s":"11.15","t":14600,"v":49},{"s":"11.15","t":14850,"v":53},{"s":"11.15","t":15100,"v":51},{"s":"11.15","t":15350,"v":54},{"s":"11.15","t":15600,"v":52},{"s":"11.15","t":15850,"v":50},{"s":"11.15","t":16100,"v":53},{"s":"11.15","t":16350,"v":51},{"s":"11.15","t":16600,"v":54},{"s":"11.15","t":16850,"v":52},{"s":"11.15","t":17100,"v":55},{"s":"11.15","t":17350,"v":53},{"s":"11.15","t":17600,"v":51},{"s":"11.15","t":17850,"v":54},{"s":"11.15","t":18100,"v":52},{"s":"11.15","t":18350,"v":55},{"s":"11.15","t":18600,"v":53},{"s":"11.15","t":18850,"v":56},{"s":"11.15","t":19100,"v":54},{"s":"11.15","t":19350,"v":57},{"s":"11.15","t":19600,"v":54},{"s":"11.15","t":19850,"v":56},{"s":"11.15","t":20100,"v":53},{"s":"11.15","t":20350,"v":55},{"s":"11.15","t":20600,"v":57},{"s":"11.15","t":20850,"v":54},{"s":"11.15","t":21100,"v":56},{"s":"11.15","t":21350,"v":58},{"s":"11.15","t":21600,"v":55},{"s":"11.15","t":21850,"v":57},{"s":"11.15","t":22100,"v":54},{"s":"11.15","t":22350,"v":56},{"s":"11.15","t":22600,"v":58},{"s":"11.15","t":22850,"v":55},{"s":"11.15","t":23100,"v":57},{"s":"11.15","t":23350,"v":54},{"s":"11.15","t":23600,"v":57},{"s":"11.15","t":23850,"v":59},{"s":"11.15","t":24100,"v":57},{"s":"11.15","t":24350,"v":60},{"s":"11.15","t":24600,"v":57},{"s":"11.15","t":24850,"v":53},{"s":"11.15","t":25100,"v":49},{"s":"11.15","t":25350,"v":46},{"s":"11.15","t":25600,"v":48},{"s":"11.15","t":25850,"v":44},{"s":"11.15","t":26100,"v":47},{"s":"11.15","t":26350,"v":49},{"s":"11.15","t":26600,"v":46},{"s":"11.15","t":26850,"v":50},{"s":"11.15","t":27100,"v":47},{"s":"11.15","t":27350,"v":49},{"s":"11.15","t":27600,"v":46},{"s":"11.15","t":27850,"v":50},{"s":"11.15","t":28100,"v":47},{"s":"11.15","t":28350,"v":45},{"s":"11.15","t":28600,"v":49},{"s":"11.15","t":28850,"v":56},{"s":"11.15","t":29100,"v":62},{"s":"11.15","t":29350,"v":47},{"s":"11.15","t":29600,"v":43},
{"s":"11.87","t":100,"v":23},{"s":"11.87","t":350,"v":15},{"s":"11.87","t":600,"v":24},{"s":"11.87","t":850,"v":14},{"s":"11.87","t":1100,"v":22},{"s":"11.87","t":1350,"v":16},{"s":"11.87","t":1600,"v":25},{"s":"11.87","t":1850,"v":13},{"s":"11.87","t":2100,"v":21},{"s":"11.87","t":2350,"v":12},{"s":"11.87","t":2600,"v":22},{"s":"11.87","t":2850,"v":14},{"s":"11.87","t":3100,"v":20},{"s":"11.87","t":3350,"v":11},{"s":"11.87","t":3600,"v":23},{"s":"11.87","t":3850,"v":15},{"s":"11.87","t":4100,"v":22},{"s":"11.87","t":4350,"v":13},{"s":"11.87","t":4600,"v":24},{"s":"11.87","t":4850,"v":16},{"s":"11.87","t":5100,"v":21},{"s":"11.87","t":5350,"v":14},{"s":"11.87","t":5600,"v":25},{"s":"11.87","t":5850,"v":18},{"s":"11.87","t":6100,"v":28},{"s":"11.87","t":6350,"v":20},{"s":"11.87","t":6600,"v":30},{"s":"11.87","t":6850,"v":21},{"s":"11.87","t":7100,"v":29},{"s":"11.87","t":7350,"v":20},{"s":"11.87","t":7600,"v":31},{"s":"11.87","t":7850,"v":22},{"s":"11.87","t":8100,"v":30},{"s":"11.87","t":8350,"v":19},{"s":"11.87","t":8600,"v":29},{"s":"11.87","t":8850,"v":21},{"s":"11.87","t":9100,"v":32},{"s":"11.87","t":9350,"v":22},{"s":"11.87","t":9600,"v":30},{"s":"11.87","t":9850,"v":20},{"s":"11.87","t":10100,"v":31},{"s":"11.87","t":10350,"v":21},{"s":"11.87","t":10600,"v":29},{"s":"11.87","t":10850,"v":23},{"s":"11.87","t":11100,"v":33},{"s":"11.87","t":11350,"v":24},{"s":"11.87","t":11600,"v":34},{"s":"11.87","t":11850,"v":23},{"s":"11.87","t":12100,"v":32},{"s":"11.87","t":12350,"v":25},{"s":"11.87","t":12600,"v":35},{"s":"11.87","t":12850,"v":24},{"s":"11.87","t":13100,"v":33},{"s":"11.87","t":13350,"v":22},{"s":"11.87","t":13600,"v":31},{"s":"11.87","t":13850,"v":20},{"s":"11.87","t":14100,"v":30},{"s":"11.87","t":14350,"v":21},{"s":"11.87","t":14600,"v":32},{"s":"11.87","t":14850,"v":19},{"s":"11.87","t":15100,"v":29},{"s":"11.87","t":15350,"v":22},{"s":"11.87","t":15600,"v":31},{"s":"11.87","t":15850,"v":20},{"s":"11.87","t":16100,"v":30},{"s":"11.87","t":16350,"v":18},{"s":"11.87","t":16600,"v":29},{"s":"11.87","t":16850,"v":21},{"s":"11.87","t":17100,"v":31},{"s":"11.87","t":17350,"v":19},{"s":"11.87","t":17600,"v":30},{"s":"11.87","t":17850,"v":22},{"s":"11.87","t":18100,"v":32},{"s":"11.87","t":18350,"v":20},{"s":"11.87","t":18600,"v":29},{"s":"11.87","t":18850,"v":21},{"s":"11.87","t":19100,"v":30},{"s":"11.87","t":19350,"v":18},{"s":"11.87","t":19600,"v":31},{"s":"11.87","t":19850,"v":20},{"s":"11.87","t":20100,"v":29},{"s":"11.87","t":20350,"v":22},{"s":"11.87","t":20600,"v":31},{"s":"11.87","t":20850,"v":19},{"s":"11.87","t":21100,"v":30},{"s":"11.87","t":21350,"v":21},{"s":"11.87","t":21600,"v":32},{"s":"11.87","t":21850,"v":20},{"s":"11.87","t":22100,"v":29},{"s":"11.87","t":22350,"v":22},{"s":"11.87","t":22600,"v":30},{"s":"11.87","t":22850,"v":19},{"s":"11.87","t":23100,"v":31},{"s":"11.87","t":23350,"v":21},{"s":"11.87","t":23600,"v":30},{"s":"11.87","t":23850,"v":20},{"s":"11.87","t":24100,"v":29},{"s":"11.87","t":24350,"v":22},{"s":"11.87","t":24600,"v":31},{"s":"11.87","t":24850,"v":21},{"s":"11.87","t":25100,"v":32},{"s":"11.87","t":25350,"v":23},{"s":"11.87","t":25600,"v":33},{"s":"11.87","t":25850,"v":22},{"s":"11.87","t":26100,"v":34},{"s":"11.87","t":26350,"v":24},{"s":"11.87","t":26600,"v":35},{"s":"11.87","t":26850,"v":25},{"s":"11.87","t":27100,"v":34},{"s":"11.87","t":27350,"v":23},{"s":"11.87","t":27600,"v":36},{"s":"11.87","t":27850,"v":24},{"s":"11.87","t":28100,"v":33},{"s":"11.87","t":28350,"v":22},{"s":"11.87","t":28600,"v":34},{"s":"11.87","t":28850,"v":23},{"s":"11.87","t":29100,"v":32},{"s":"11.87","t":29350,"v":21},{"s":"11.87","t":29600,"v":31},
{"s":"11.87","t":225,"v":22},{"s":"11.87","t":475,"v":13},{"s":"11.87","t":725,"v":24},{"s":"11.87","t":975,"v":18},{"s":"11.87","t":1225,"v":26},{"s":"11.87","t":1475,"v":15},{"s":"11.87","t":1725,"v":21},{"s":"11.87","t":1975,"v":12},{"s":"11.87","t":2225,"v":25},{"s":"11.87","t":2475,"v":19},{"s":"11.87","t":2725,"v":14},{"s":"11.87","t":2975,"v":23},{"s":"11.87","t":3225,"v":17},{"s":"11.87","t":3475,"v":25},{"s":"11.87","t":3725,"v":13},{"s":"11.87","t":3975,"v":20},{"s":"11.87","t":4225,"v":24},{"s":"11.87","t":4475,"v":16},{"s":"11.87","t":4725,"v":26},{"s":"11.87","t":4975,"v":14},{"s":"11.87","t":5225,"v":19},{"s":"11.87","t":5475,"v":23},{"s":"11.87","t":5725,"v":12},{"s":"11.87","t":5975,"v":25},{"s":"11.87","t":6225,"v":20},{"s":"11.87","t":6475,"v":28},{"s":"11.87","t":6725,"v":21},{"s":"11.87","t":6975,"v":26},{"s":"11.87","t":7225,"v":30},{"s":"11.87","t":7475,"v":19},{"s":"11.87","t":7725,"v":27},{"s":"11.87","t":7975,"v":22},{"s":"11.87","t":8225,"v":32},{"s":"11.87","t":8475,"v":24},{"s":"11.87","t":8725,"v":20},{"s":"11.87","t":8975,"v":29},{"s":"11.87","t":9225,"v":19},{"s":"11.87","t":9475,"v":28},{"s":"11.87","t":9725,"v":25},{"s":"11.87","t":9975,"v":31},{"s":"11.87","t":10225,"v":21},{"s":"11.87","t":10475,"v":27},{"s":"11.87","t":10725,"v":18},{"s":"11.87","t":10975,"v":30},{"s":"11.87","t":11225,"v":24},{"s":"11.87","t":11475,"v":32},{"s":"11.87","t":11725,"v":23},{"s":"11.87","t":11975,"v":34},{"s":"11.87","t":12225,"v":25},{"s":"11.87","t":12475,"v":29},{"s":"11.87","t":12725,"v":22},{"s":"11.87","t":12975,"v":33},{"s":"11.87","t":13225,"v":26},{"s":"11.87","t":13475,"v":35},{"s":"11.87","t":13725,"v":24},{"s":"11.87","t":13975,"v":28},{"s":"11.87","t":14225,"v":18},{"s":"11.87","t":14475,"v":27},{"s":"11.87","t":14725,"v":31},{"s":"11.87","t":14975,"v":20},{"s":"11.87","t":15225,"v":26},{"s":"11.87","t":15475,"v":22},{"s":"11.87","t":15725,"v":30},{"s":"11.87","t":15975,"v":19},{"s":"11.87","t":16225,"v":29},{"s":"11.87","t":16475,"v":25},{"s":"11.87","t":16725,"v":20},{"s":"11.87","t":16975,"v":32},{"s":"11.87","t":17225,"v":23},{"s":"11.87","t":17475,"v":28},{"s":"11.87","t":17725,"v":19},{"s":"11.87","t":17975,"v":31},{"s":"11.87","t":18225,"v":24},{"s":"11.87","t":18475,"v":29},{"s":"11.87","t":18725,"v":21},{"s":"11.87","t":18975,"v":27},{"s":"11.87","t":19225,"v":18},{"s":"11.87","t":19475,"v":30},{"s":"11.87","t":19725,"v":22},{"s":"11.87","t":19975,"v":31},{"s":"11.87","t":20225,"v":25},{"s":"11.87","t":20475,"v":20},{"s":"11.87","t":20725,"v":28},{"s":"11.87","t":20975,"v":23},{"s":"11.87","t":21225,"v":32},{"s":"11.87","t":21475,"v":19},{"s":"11.87","t":21725,"v":26},{"s":"11.87","t":21975,"v":29},{"s":"11.87","t":22225,"v":21},{"s":"11.87","t":22475,"v":31},{"s":"11.87","t":22725,"v":22},{"s":"11.87","t":22975,"v":27},{"s":"11.87","t":23225,"v":18},{"s":"11.87","t":23475,"v":30},{"s":"11.87","t":23725,"v":24},{"s":"11.87","t":23975,"v":28},{"s":"11.87","t":24225,"v":20},{"s":"11.87","t":24475,"v":31},{"s":"11.87","t":24725,"v":23},{"s":"11.87","t":24975,"v":29},{"s":"11.87","t":25225,"v":19},{"s":"11.87","t":25475,"v":26},{"s":"11.87","t":25725,"v":32},{"s":"11.87","t":25975,"v":21},{"s":"11.87","t":26225,"v":27},{"s":"11.87","t":26475,"v":23},{"s":"11.87","t":26725,"v":34},{"s":"11.87","t":26975,"v":28},{"s":"11.87","t":27225,"v":32},{"s":"11.87","t":27475,"v":24},{"s":"11.87","t":27725,"v":35},{"s":"11.87","t":27975,"v":26},{"s":"11.87","t":28225,"v":31},{"s":"11.87","t":28475,"v":22},{"s":"11.87","t":28725,"v":33},{"s":"11.87","t":28975,"v":25},{"s":"11.87","t":29225,"v":21},{"s":"11.87","t":29475,"v":30}
],
"labels": [
{"s":"8.7","t":33000,"v":257},{"s":"9.27","t":34000,"v":210},{"s":"9.56","t":34000,"v":177},{"s":"9.63","t":34000,"v":144},{"s":"9.86","t":34000,"v":112},{"s":"10.43","t":34000,"v":78},{"s":"11.15","t":34000,"v":49},{"s":"11.87","t":34000,"v":23}
],
"bigItalic": [{"txt":"T","t":2300,"v":292},{"txt":"n","t":18100,"v":292}],
"bigNormal": [{"txt":"=0.24 K","t":3800,"v":292},{"txt":"(10","t":19900,"v":292},{"txt":"cm","t":24300,"v":292},{"txt":")","t":27400,"v":292},{"txt":"=","t":28800,"v":292}],
"smallItalic": [{"txt":"s","t":19000,"v":288}],
"smallNormal": [{"txt":"10","t":22500,"v":299},{"txt":"-2","t":26500,"v":299}]
},
"layer": [
{
"data": {"name": "traces"},
"mark": {"type": "line", "strokeWidth": 0.9},
"encoding": {
"x": {"field": "t", "type": "quantitative", "scale": {"domain": [0, 34900], "nice": false, "zero": false},
"axis": {"orient": "bottom", "values": [0,2000,4000,6000,8000,10000,12000,14000,16000,18000,20000,22000,24000,26000,28000,30000,32000,34000], "format": "d",
"labelExpr": "datum.value % 10000 === 0 ? datum.label : ''", "labelOverlap": false, "labelFlush": false,
"tickSize": {"condition": {"test": "datum.value % 10000 === 0", "value": -8}, "value": -4},
"tickColor": "#808080", "domain": false, "grid": false,
"labelFont": "Liberation Serif, DejaVu Serif, serif", "labelFontSize": 13, "labelColor": "black", "labelPadding": 8,
"title": "time (s)", "titleFont": "Liberation Serif, DejaVu Serif, serif", "titleFontSize": 16, "titleFontWeight": "normal", "titleColor": "black",
"titleBaseline": "alphabetic", "titleY": 35}},
"y": {"field": "v", "type": "quantitative", "scale": {"domain": [0, 337], "nice": false, "zero": false},
"axis": {"orient": "left", "values": [88, 213], "labels": false, "tickSize": -4, "tickColor": "#808080", "domain": false, "grid": false,
"title": "(ρ− < ρ >)/δ ρ", "titleFont": "Liberation Serif, DejaVu Serif, serif", "titleFontStyle": "italic", "titleFontSize": 19, "titleFontWeight": "normal", "titleColor": "black",
"titleAngle": -90, "titleX": -20, "titleY": 190, "titleAlign": "center", "titleBaseline": "middle"}},
"color": {"field": "s", "type": "nominal", "legend": null,
"scale": {"domain": ["8.7","9.27","9.56","9.63","9.86","10.43","11.15","11.87"],
"range": ["#3a3aff","#ff3a3a","#333333","#22e022","#ff2a2a","#222222","#11ee11","#ff00ff"]}}
}
},
{
"data": {"name": "labels"},
"mark": {"type": "text", "font": "Liberation Serif, DejaVu Serif, serif", "fontSize": 16, "align": "right", "baseline": "middle", "color": "black"},
"encoding": {
"x": {"field": "t", "type": "quantitative", "scale": {"domain": [0, 34900], "nice": false, "zero": false},
"axis": {"orient": "top", "values": [0,2000,4000,6000,8000,10000,12000,14000,16000,18000,20000,22000,24000,26000,28000,30000,32000,34000],
"labels": false, "tickSize": {"condition": {"test": "datum.value % 10000 === 0", "value": -8}, "value": -4},
"tickColor": "#808080", "domain": false, "grid": false, "title": null}},
"y": {"field": "v", "type": "quantitative", "scale": {"domain": [0, 337], "nice": false, "zero": false},
"axis": {"orient": "right", "values": [88, 213], "labels": false, "tickSize": -4, "tickColor": "#808080", "domain": false, "grid": false, "title": null}},
"text": {"field": "s"}
}
},
{
"data": {"name": "bigItalic"},
"mark": {"type": "text", "font": "Liberation Serif, DejaVu Serif, serif", "fontSize": 18, "fontStyle": "italic", "align": "left", "baseline": "alphabetic", "color": "black"},
"encoding": {
"x": {"field": "t", "type": "quantitative", "axis": null},
"y": {"field": "v", "type": "quantitative", "axis": null},
"text": {"field": "txt"}
}
},
{
"data": {"name": "bigNormal"},
"mark": {"type": "text", "font": "Liberation Serif, DejaVu Serif, serif", "fontSize": 18, "align": "left", "baseline": "alphabetic", "color": "black"},
"encoding": {
"x": {"field": "t", "type": "quantitative", "axis": null},
"y": {"field": "v", "type": "quantitative", "axis": null},
"text": {"field": "txt"}
}
},
{
"data": {"name": "smallItalic"},
"mark": {"type": "text", "font": "Liberation Serif, DejaVu Serif, serif", "fontSize": 12, "fontStyle": "italic", "align": "left", "baseline": "alphabetic", "color": "black"},
"encoding": {
"x": {"field": "t", "type": "quantitative", "axis": null},
"y": {"field": "v", "type": "quantitative", "axis": null},
"text": {"field": "txt"}
}
},
{
"data": {"name": "smallNormal"},
"mark": {"type": "text", "font": "Liberation Serif, DejaVu Serif, serif", "fontSize": 12, "align": "left", "baseline": "alphabetic", "color": "black"},
"encoding": {
"x": {"field": "t", "type": "quantitative", "axis": null},
"y": {"field": "v", "type": "quantitative", "axis": null},
"text": {"field": "txt"}
}
}
],
"resolve": {"axis": {"x": "independent", "y": "independent"}}
}
